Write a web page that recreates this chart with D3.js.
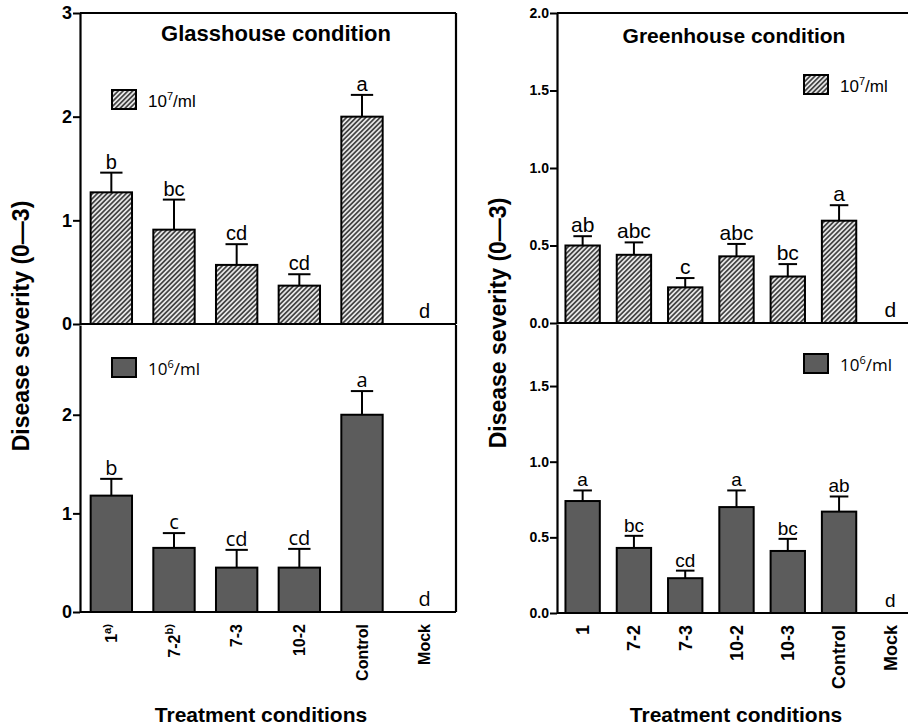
<!DOCTYPE html>
<html>
<head>
<meta charset="utf-8">
<script src="https://cdn.jsdelivr.net/npm/d3@7"></script>
<style>
  body { margin: 0; background: #fff; }
  svg { display: block; }
</style>
</head>
<body>
<div id="chart"></div>
<script>
// Glasshouse condition
const glassCategories = ["1", "7-2", "7-3", "10-2", "Control", "Mock"];
const glassFootnotes = ["a)", "b)", "", "", "", ""];
const glassHighMeans = [1.27, 0.91, 0.57, 0.37, 2.0, 0];
const glassHighErrors = [0.19, 0.29, 0.20, 0.11, 0.21, 0];
const glassHighLetters = ["b", "bc", "cd", "cd", "a", "d"];
const glassLowMeans = [1.18, 0.65, 0.45, 0.45, 2.0, 0];
const glassLowErrors = [0.17, 0.15, 0.18, 0.19, 0.24, 0];
const glassLowLetters = ["b", "c", "cd", "cd", "a", "d"];
const glassTopTicks = [0, 1, 2, 3];
const glassBottomTicks = [0, 1, 2];

// Greenhouse condition
const greenCategories = ["1", "7-2", "7-3", "10-2", "10-3", "Control", "Mock"];
const greenHighMeans = [0.50, 0.44, 0.23, 0.43, 0.30, 0.66, 0];
const greenHighErrors = [0.06, 0.08, 0.06, 0.08, 0.08, 0.10, 0];
const greenHighLetters = ["ab", "abc", "c", "abc", "bc", "a", "d"];
const greenLowMeans = [0.74, 0.43, 0.23, 0.70, 0.41, 0.67, 0];
const greenLowErrors = [0.07, 0.08, 0.05, 0.11, 0.08, 0.10, 0];
const greenLowLetters = ["a", "bc", "cd", "a", "bc", "ab", "d"];
const greenTopTicks = [0, 0.5, 1.0, 1.5, 2.0];
const greenBottomTicks = [0, 0.5, 1.0, 1.5];

const width = 908, height = 728;
const ARIAL = "'Liberation Sans', Arial, sans-serif";
const CALIBRI = "'Open Sans', 'Noto Sans', sans-serif";
const darkFill = "#5c5c5c";

const svg = d3.select("#chart")
    .append("svg")
    .attr("width", width)
    .attr("height", height);

// diagonal hatch for the 10^7 bars
const pat = svg.append("defs").append("pattern")
    .attr("id", "hatch")
    .attr("patternUnits", "userSpaceOnUse")
    .attr("width", 3.4)
    .attr("height", 3.4)
    .attr("patternTransform", "rotate(45)");
pat.append("rect").attr("width", 3.4).attr("height", 3.4).attr("fill", "#e6e6e6");
pat.append("line")
    .attr("x1", 1.7).attr("y1", 0).attr("x2", 1.7).attr("y2", 3.4)
    .attr("stroke", "#3a3a3a").attr("stroke-width", 1.6);

const glassX = d3.scaleBand()
    .domain(glassCategories)
    .range([80, 456])
    .paddingInner(0.34)
    .paddingOuter(0.17);

const greenX = d3.scaleBand()
    .domain(greenCategories)
    .range([557, 916])
    .paddingInner(0.33)
    .paddingOuter(0.165);

const glassTopY = d3.scaleLinear().domain([0, 3]).range([324, 13]);
const glassBottomY = d3.scaleLinear().domain([0, 2.91]).range([612, 325]);
const greenTopY = d3.scaleLinear().domain([0, 2]).range([323, 13]);
const greenBottomY = d3.scaleLinear().domain([0, 1.91]).range([613, 324]);

function drawPanel(p) {
    const g = svg.append("g");
    const [x0, x1] = p.x.range();
    const [yb, yt] = p.y.range();
    const bw = p.x.bandwidth();
    const rows = p.x.domain().map((c, i) => ({ c, v: p.means[i], e: p.errors[i], l: p.letters[i] }));

    // frame
    const frame = g.append("g").attr("stroke", "#000").attr("stroke-width", 2.2);
    if (p.top) frame.append("line").attr("x1", x0).attr("x2", x1).attr("y1", yt).attr("y2", yt);
    frame.append("line").attr("x1", x1).attr("x2", x1).attr("y1", yt).attr("y2", yb);
    frame.append("line").attr("x1", x0).attr("x2", x1).attr("y1", yb).attr("y2", yb);

    // bars
    g.selectAll("rect.bar")
        .data(rows.filter(d => d.v > 0))
        .enter()
        .append("rect")
        .attr("class", "bar")
        .attr("x", d => p.x(d.c))
        .attr("y", d => p.y(d.v))
        .attr("width", bw)
        .attr("height", d => p.y(0) - p.y(d.v))
        .attr("fill", p.fill)
        .attr("stroke", "#000")
        .attr("stroke-width", 2);

    // error bars (upper only)
    const err = g.selectAll("g.err")
        .data(rows.filter(d => d.e > 0))
        .enter()
        .append("g")
        .attr("stroke", "#000")
        .attr("stroke-width", 2);
    err.append("line")
        .attr("x1", d => p.x(d.c) + bw / 2)
        .attr("x2", d => p.x(d.c) + bw / 2)
        .attr("y1", d => p.y(d.v))
        .attr("y2", d => p.y(d.v + d.e));
    err.append("line")
        .attr("x1", d => p.x(d.c) + bw / 2 - bw * 0.27)
        .attr("x2", d => p.x(d.c) + bw / 2 + bw * 0.27)
        .attr("y1", d => p.y(d.v + d.e))
        .attr("y2", d => p.y(d.v + d.e));

    // significance letters
    g.selectAll("text.letter")
        .data(rows)
        .enter()
        .append("text")
        .attr("class", "letter")
        .attr("x", d => p.x(d.c) + bw / 2)
        .attr("y", d => d.v > 0 ? p.y(d.v + d.e) - 4 : p.y(0) - 6)
        .attr("text-anchor", "middle")
        .attr("font-family", p.letterFont)
        .attr("font-size", p.letterSize)
        .text(d => d.l);

    // y axis
    const ax = g.append("g")
        .attr("transform", `translate(${x0},0)`)
        .call(d3.axisLeft(p.y)
            .tickValues(p.ticks)
            .tickFormat(p.tickFormat)
            .tickSize(7)
            .tickSizeOuter(0)
            .tickPadding(1));
    ax.select(".domain").attr("stroke-width", 2.2);
    ax.selectAll(".tick line").attr("stroke-width", 2);
    ax.selectAll(".tick text")
        .attr("font-family", ARIAL)
        .attr("font-weight", "bold")
        .attr("font-size", p.tickSize)
        .attr("fill", "#000");

    // legend
    const lg = g.append("g").attr("transform", `translate(${p.legend.x},${p.legend.y})`);
    lg.append("rect")
        .attr("width", 24).attr("height", 19)
        .attr("fill", p.fill).attr("stroke", "#000").attr("stroke-width", 2);
    const lt = lg.append("text")
        .attr("x", 36).attr("y", 17)
        .attr("font-family", p.legend.font)
        .attr("font-size", 17);
    lt.append("tspan").text("10");
    lt.append("tspan").attr("dy", -7).attr("font-size", 11).text(p.legend.exp);
    lt.append("tspan").attr("dy", 7).text("/ml");

    // category labels
    if (p.labels) {
        const xa = g.append("g")
            .attr("transform", `translate(0,${yb})`)
            .call(d3.axisBottom(p.x).tickSize(0).tickFormat(() => ""));
        xa.select(".domain").remove();
        xa.selectAll(".tick").each(function (d, i) {
            const t = d3.select(this).append("text")
                .attr("transform", "rotate(-90)")
                .attr("x", -12)
                .attr("dy", "0.35em")
                .attr("text-anchor", "end")
                .attr("font-family", ARIAL)
                .attr("font-weight", "bold")
                .attr("font-size", p.labelSize)
                .attr("fill", "#000");
            t.append("tspan").text(d);
            if (p.footnotes && p.footnotes[i]) {
                t.append("tspan")
                    .attr("dy", "-0.55em")
                    .attr("font-size", p.labelSize * 0.7)
                    .text(p.footnotes[i]);
            }
        });
    }
}

drawPanel({
    x: glassX, y: glassTopY, means: glassHighMeans, errors: glassHighErrors,
    letters: glassHighLetters, fill: "url(#hatch)", letterFont: ARIAL, letterSize: 20,
    ticks: glassTopTicks, tickFormat: d3.format("d"), tickSize: 18, top: true,
    legend: { x: 112, y: 90, exp: "7", font: ARIAL }
});
drawPanel({
    x: glassX, y: glassBottomY, means: glassLowMeans, errors: glassLowErrors,
    letters: glassLowLetters, fill: darkFill, letterFont: CALIBRI, letterSize: 20,
    ticks: glassBottomTicks, tickFormat: d3.format("d"), tickSize: 18,
    legend: { x: 112, y: 358, exp: "6", font: CALIBRI },
    labels: true, labelSize: 16, footnotes: glassFootnotes
});
drawPanel({
    x: greenX, y: greenTopY, means: greenHighMeans, errors: greenHighErrors,
    letters: greenHighLetters, fill: "url(#hatch)", letterFont: ARIAL, letterSize: 21,
    ticks: greenTopTicks, tickFormat: d3.format(".1f"), tickSize: 14, top: true,
    legend: { x: 804, y: 75, exp: "7", font: ARIAL }
});
drawPanel({
    x: greenX, y: greenBottomY, means: greenLowMeans, errors: greenLowErrors,
    letters: greenLowLetters, fill: darkFill, letterFont: ARIAL, letterSize: 19,
    ticks: greenBottomTicks, tickFormat: d3.format(".1f"), tickSize: 14,
    legend: { x: 804, y: 354, exp: "6", font: CALIBRI },
    labels: true, labelSize: 18
});

// titles
svg.append("text")
    .attr("x", 276).attr("y", 41)
    .attr("text-anchor", "middle")
    .attr("font-family", ARIAL).attr("font-weight", "bold").attr("font-size", 22)
    .text("Glasshouse condition");
svg.append("text")
    .attr("x", 734).attr("y", 43)
    .attr("text-anchor", "middle")
    .attr("font-family", ARIAL).attr("font-weight", "bold").attr("font-size", 21)
    .text("Greenhouse condition");

[[21, 326], [498, 323]].forEach(([x, y]) => {
    svg.append("text")
        .attr("transform", `translate(${x + 8},${y}) rotate(-90)`)
        .attr("text-anchor", "middle")
        .attr("font-family", ARIAL).attr("font-weight", "bold").attr("font-size", 23)
        .text("Disease severity (0\u20143)");
});

[[261, 722], [736, 722]].forEach(([x, y]) => {
    svg.append("text")
        .attr("x", x).attr("y", y)
        .attr("text-anchor", "middle")
        .attr("font-family", ARIAL).attr("font-weight", "bold").attr("font-size", 21)
        .text("Treatment conditions");
});
</script>
</body>
</html>
